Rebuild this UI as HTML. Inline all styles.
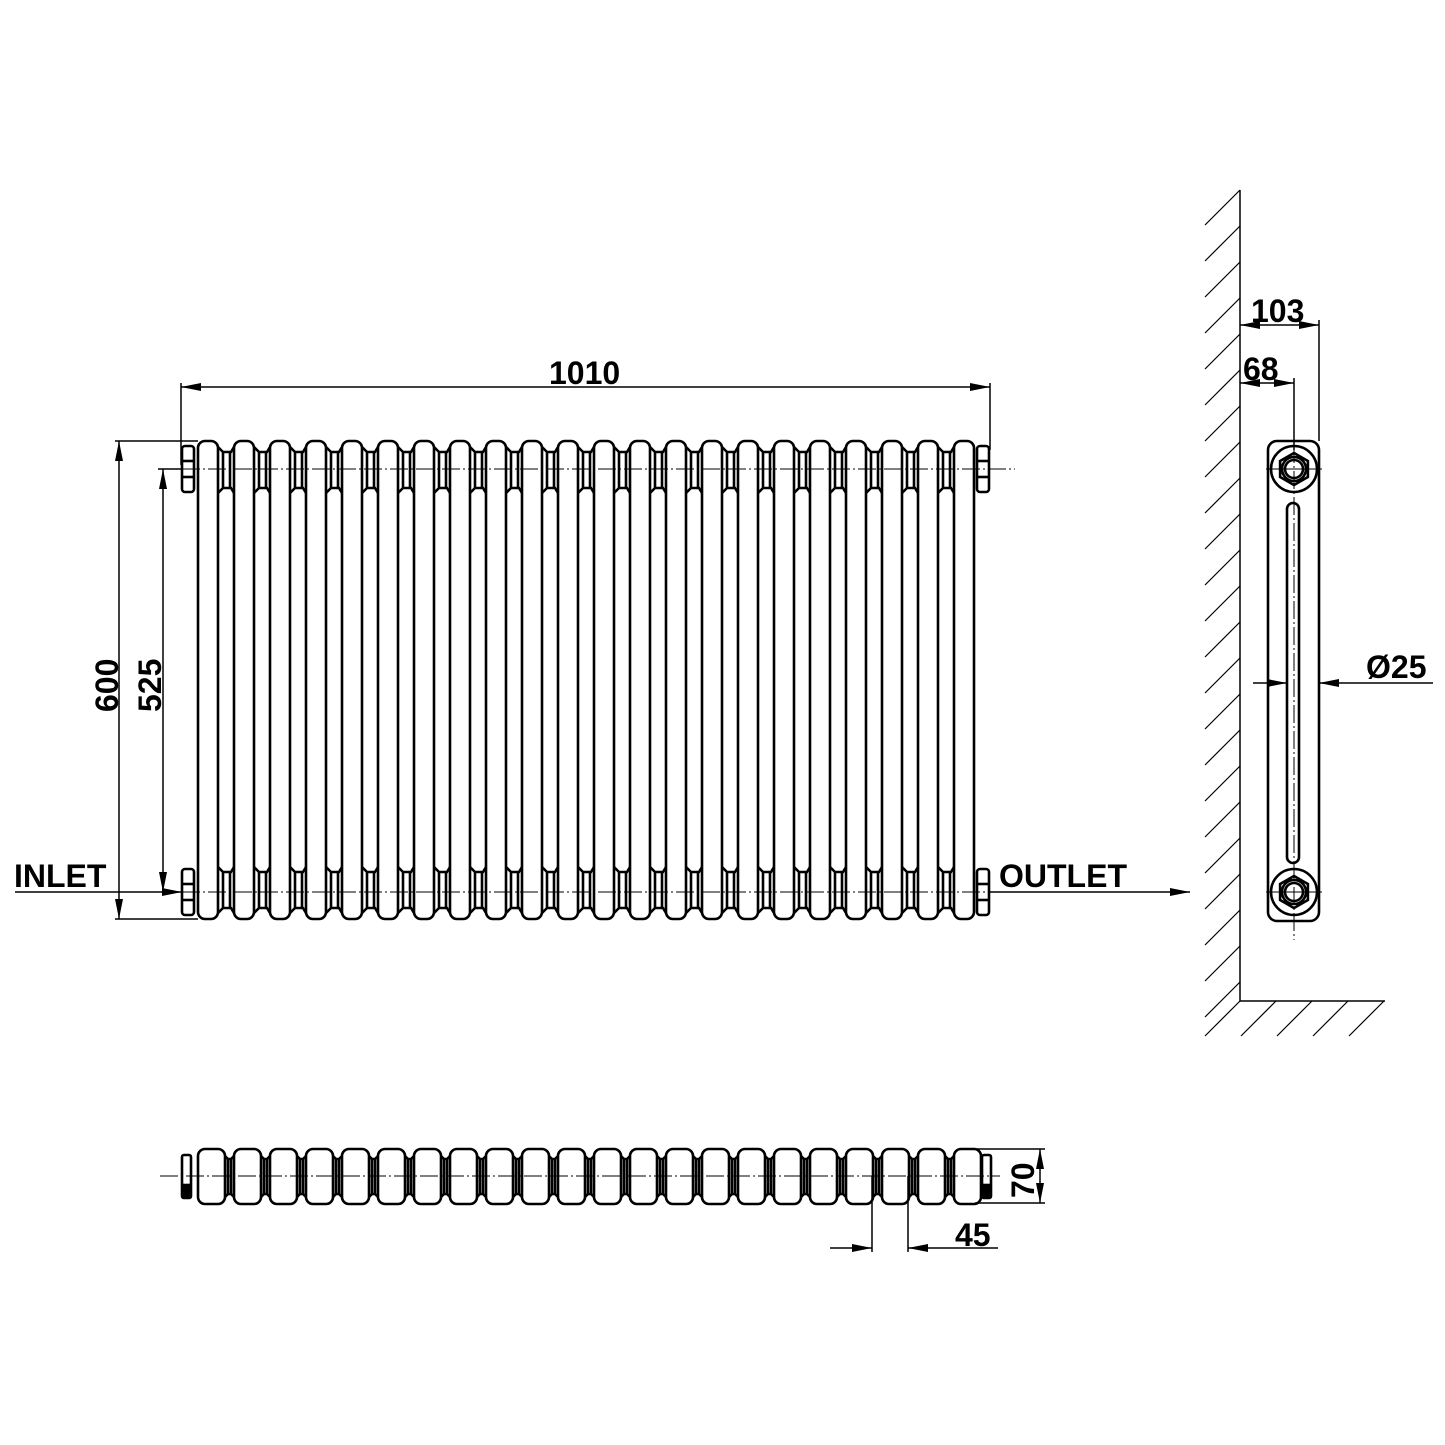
<!DOCTYPE html>
<html><head><meta charset="utf-8">
<style>
html,body{margin:0;padding:0;background:#fff;}
svg{display:block;}
text{font-family:"Liberation Sans",Arial,sans-serif;font-weight:bold;fill:#000;}
</style></head>
<body>
<svg id="s" width="1445" height="1445" viewBox="0 0 1445 1445" xmlns="http://www.w3.org/2000/svg">
<defs>
<marker id="a" viewBox="0 0 20 8" refX="20" refY="4" markerWidth="20" markerHeight="8" markerUnits="userSpaceOnUse" orient="auto-start-reverse"><path d="M0,0 L20,4 L0,8 Z" fill="#000"/></marker>
</defs>
<g id="g" fill="none" stroke="#000" stroke-width="2.6"></g>
<g fill="none" stroke="#000" stroke-width="1.5">
<line x1="181" y1="383" x2="181" y2="465"/>
<line x1="990" y1="383" x2="990" y2="450"/>
<line x1="181" y1="387" x2="990" y2="387" marker-start="url(#a)" marker-end="url(#a)"/>
<line x1="115" y1="441" x2="198" y2="441"/>
<line x1="115" y1="919" x2="198" y2="919"/>
<line x1="119" y1="441" x2="119" y2="919" marker-start="url(#a)" marker-end="url(#a)"/>
<line x1="158" y1="469" x2="182" y2="469"/>
<line x1="163" y1="469" x2="163" y2="892" marker-start="url(#a)" marker-end="url(#a)"/>
<line x1="15" y1="892" x2="182" y2="892" marker-end="url(#a)"/>
<line x1="990" y1="892" x2="1190" y2="892" marker-end="url(#a)"/>
<line x1="182" y1="469" x2="1015" y2="469" stroke-dasharray="18,3,2,3" stroke-width="1"/>
<line x1="182" y1="892" x2="990" y2="892" stroke-dasharray="18,3,2,3" stroke-width="1"/>
<line x1="160" y1="1176" x2="1000" y2="1176" stroke-dasharray="18,3,2,3" stroke-width="1"/>
<line x1="1240" y1="190" x2="1240" y2="1001"/>
<line x1="1240" y1="1001" x2="1385" y2="1001"/>
<line x1="1319" y1="320" x2="1319" y2="441"/>
<line x1="1240" y1="325" x2="1319" y2="325" marker-start="url(#a)" marker-end="url(#a)"/>
<line x1="1294" y1="378" x2="1294" y2="450"/>
<line x1="1240" y1="383" x2="1294" y2="383" marker-start="url(#a)" marker-end="url(#a)"/>
<line x1="1253" y1="683" x2="1287" y2="683" marker-end="url(#a)"/>
<line x1="1433" y1="683" x2="1319" y2="683" marker-end="url(#a)"/>
<line x1="1294" y1="445" x2="1294" y2="940" stroke-dasharray="18,3,2,3" stroke-width="1"/>
<line x1="872" y1="1176" x2="872" y2="1252"/>
<line x1="908" y1="1176" x2="908" y2="1252"/>
<line x1="830" y1="1248" x2="872" y2="1248" marker-end="url(#a)"/>
<line x1="998" y1="1248" x2="908" y2="1248" marker-end="url(#a)"/>
<line x1="975" y1="1149" x2="1045" y2="1149"/>
<line x1="975" y1="1203" x2="1045" y2="1203"/>
<line x1="1040" y1="1149" x2="1040" y2="1203" marker-start="url(#a)" marker-end="url(#a)"/>
</g>
<text x="549" y="384" font-size="32">1010</text>
<text x="14" y="887" font-size="32">INLET</text>
<text x="999" y="887" font-size="32">OUTLET</text>
<text x="1251" y="322" font-size="32">103</text>
<text x="1243" y="380" font-size="32">68</text>
<text x="1366" y="678" font-size="32">Ø25</text>
<text x="955" y="1246" font-size="32">45</text>
<text transform="translate(118,712) rotate(-90)" font-size="32">600</text>
<text transform="translate(161,712) rotate(-90)" font-size="32">525</text>
<text transform="translate(1034,1198) rotate(-90)" font-size="32">70</text>
</svg>
<script>
var g=document.getElementById('g'),h='';
function L(a,b,c,d,w){h+='<line x1="'+a+'" y1="'+b+'" x2="'+c+'" y2="'+d+'"'+(w?' stroke-width="'+w+'"':'')+'/>';}
for(var i=0;i<22;i++){var x=198+36*i;
 h+='<rect x="'+x+'" y="441" width="20" height="478" rx="7"/>';
 if(i<21){
  h+='<path d="M'+(x+20)+',447 L'+(x+25)+',452 L'+(x+33)+',452 L'+(x+36)+',447"/>';
  h+='<path d="M'+(x+20)+',493 L'+(x+25)+',488 L'+(x+33)+',488 L'+(x+36)+',493"/>';
  h+='<path d="M'+(x+20)+',867 L'+(x+25)+',872 L'+(x+33)+',872 L'+(x+36)+',867"/>';
  h+='<path d="M'+(x+20)+',913 L'+(x+25)+',908 L'+(x+33)+',908 L'+(x+36)+',913"/>';
  L(x+25,452,x+25,488);L(x+32,452,x+32,488);L(x+25,872,x+25,908);L(x+32,872,x+32,908);
 }
 h+='<rect x="'+x+'" y="1149" width="27" height="55" rx="7"/>';
 if(i<21){
  h+='<path d="M'+(x+27)+',1156 L'+(x+30)+',1159 L'+(x+33)+',1159 L'+(x+36)+',1156"/>';
  h+='<path d="M'+(x+27)+',1197 L'+(x+30)+',1194 L'+(x+33)+',1194 L'+(x+36)+',1197"/>';
  L(x+30,1159,x+30,1194);L(x+33,1159,x+33,1194);
 }
}
[469,892].forEach(function(y){
 h+='<rect x="182" y="'+(y-23)+'" width="12" height="46" rx="3"/>';L(182,y-8,194,y-8);L(182,y+8,194,y+8);
 h+='<rect x="977" y="'+(y-23)+'" width="12" height="46" rx="3"/>';L(977,y-8,989,y-8);L(977,y+8,989,y+8);
});
h+='<rect x="182" y="1155" width="9" height="43" rx="2"/>';h+='<rect x="982" y="1155" width="9" height="43" rx="2"/>';
h+='<rect x="183" y="1185" width="7" height="12" fill="#000"/>';h+='<rect x="983" y="1185" width="7" height="12" fill="#000"/>';
h+='<rect x="1268" y="441" width="51" height="480" rx="9"/>';
h+='<rect x="1287" y="503" width="12" height="360" rx="6"/>';
[469,892].forEach(function(y){
 h+='<circle cx="1294" cy="'+y+'" r="23"/>';
 var p='';for(var k=0;k<6;k++){var an=Math.PI/6+k*Math.PI/3;p+=(1294+16*Math.cos(an)).toFixed(1)+','+(y+16*Math.sin(an)).toFixed(1)+' ';}
 h+='<polygon points="'+p+'"/>';
 h+='<circle cx="1294" cy="'+y+'" r="12"/><circle cx="1294" cy="'+y+'" r="9"/>';
 L(1266,y,1322,y,1);
});
for(var y=190;y<1000;y+=36){L(1205,y+35,1240,y,1.2);}
for(var x=1205;x<1385;x+=36){L(x,1036,x+35,1001,1.2);}
g.innerHTML=h;
</script>
</body></html>
